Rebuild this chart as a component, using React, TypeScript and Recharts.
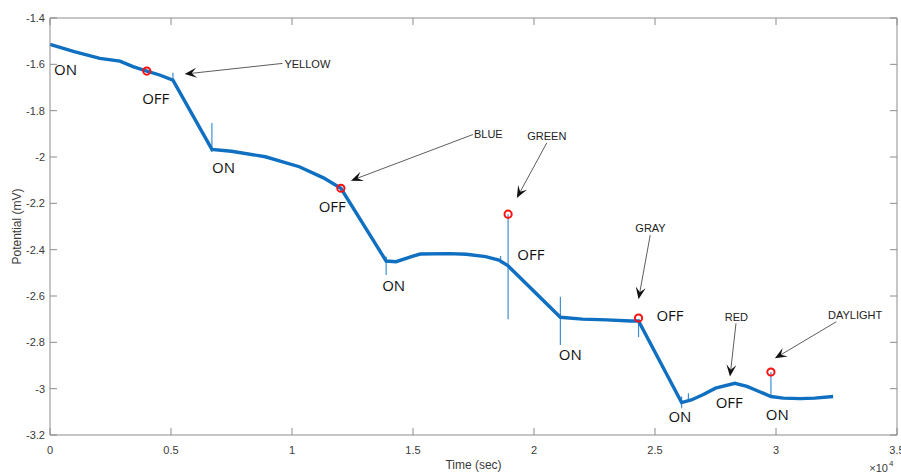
import { ComposedChart, Line, Scatter, XAxis, YAxis, ReferenceLine } from 'recharts';

// potential trace (time in s, potential in mV)
const traceTime = [
  0, 1000, 2060, 2890, 3430, 4000, 4530, 5080, 6690, 7500, 8900, 10300, 11300, 12020,
  13890, 14300, 15000, 15300, 16500, 17200, 18000, 18550, 18930, 21090, 22000, 23000,
  24000, 24320, 26100, 26500, 27000, 27500, 28300, 28800, 29300, 29790, 30300, 31000,
  31600, 32360,
];
const tracePotential = [
  -1.514, -1.545, -1.574, -1.586, -1.61, -1.629, -1.646, -1.668, -1.967, -1.975, -1.999,
  -2.042, -2.09, -2.135, -2.449, -2.452, -2.428, -2.419, -2.417, -2.42, -2.43, -2.445,
  -2.47, -2.692, -2.7, -2.703, -2.708, -2.708, -3.06, -3.049, -3.025, -2.998, -2.977,
  -2.99, -3.012, -3.034, -3.041, -3.043, -3.041, -3.034,
];

// switching transients
const spikeTime = [5080, 6690, 13890, 18620, 18930, 21090, 24320, 26100, 26380, 29790];
const spikeHigh = [-1.636, -1.853, -2.43, -2.427, -2.247, -2.603, -2.711, -3.034, -3.02, -2.928];
const spikeLow = [-1.675, -1.978, -2.509, -2.459, -2.7, -2.811, -2.778, -3.084, -3.056, -3.036];

// light-off markers
const markerTime = [4000, 12020, 18930, 24320, 29790];
const markerPotential = [-1.629, -2.135, -2.247, -2.695, -2.928];

// ON / OFF state labels
const stateText = ['ON', 'OFF', 'ON', 'OFF', 'ON', 'OFF', 'ON', 'OFF', 'ON', 'OFF', 'ON'];
const stateTime = [640, 4370, 7170, 11665, 14200, 19870, 21500, 25620, 26030, 28070, 30050];
const statePotential = [-1.624, -1.75, -2.047, -2.216, -2.557, -2.423, -2.855, -2.686, -3.121, -3.06, -3.113];

// light colour callouts
const calloutText = ['YELLOW', 'BLUE', 'GREEN', 'GRAY', 'RED', 'DAYLIGHT'];
const calloutTime = [9687, 17519, 20528, 24815, 28360, 32150];
const calloutPotential = [-1.599, -1.901, -1.909, -2.306, -2.69, -2.682];
const arrowFromTime = [9605, 17477, 20528, 24803, 28347, 32494];
const arrowFromPotential = [-1.596, -1.903, -1.939, -2.337, -2.718, -2.711];
const arrowToTime = [5565, 12436, 19291, 24320, 28100, 29954];
const arrowToPotential = [-1.642, -2.102, -2.177, -2.614, -2.948, -2.869];

const timeTicks = [0, 5000, 10000, 15000, 20000, 25000, 30000, 35000];
const potentialTicks = [-3.2, -3, -2.8, -2.6, -2.4, -2.2, -2, -1.8, -1.6, -1.4];

const trace = traceTime.map((t, i) => ({ t, v: tracePotential[i] }));
const markers = markerTime.map((t, i) => ({ t, v: markerPotential[i] }));
const states = stateTime.map((t, i) => ({ t, v: statePotential[i], text: stateText[i] }));
const callouts = calloutTime.map((t, i) => ({
  t,
  v: calloutPotential[i],
  text: calloutText[i],
  anchor: arrowFromTime[i] - arrowToTime[i] > 1500 ? 'start' : 'middle',
}));

const AXIS = '#8c8c8c';
const INK = '#3a3a3a';
const SANS = '"Liberation Sans", Arial, sans-serif';
const TICK = 7;

const fmtTime = (v: number) => String(v / 10000);
const fmtPotential = (v: number) => String(parseFloat(v.toFixed(1)));

const BottomTick = (p: any) => (
  <g>
    <line x1={p.x} y1={p.y} x2={p.x} y2={p.y - TICK} stroke={AXIS} />
    <text x={p.x} y={p.y + 15} dy="0.35em" textAnchor="middle" fontSize={11} fontFamily={SANS} fill={INK}>
      {fmtTime(p.payload.value)}
    </text>
  </g>
);

const TopTick = (p: any) => <line x1={p.x} y1={p.y} x2={p.x} y2={p.y + TICK} stroke={AXIS} />;

const LeftTick = (p: any) => (
  <g>
    <line x1={p.x} y1={p.y} x2={p.x + TICK} y2={p.y} stroke={AXIS} />
    <text x={p.x - 5} y={p.y} dy="0.35em" textAnchor="end" fontSize={11} fontFamily={SANS} fill={INK}>
      {fmtPotential(p.payload.value)}
    </text>
  </g>
);

const RightTick = (p: any) => <line x1={p.x} y1={p.y} x2={p.x - TICK} y2={p.y} stroke={AXIS} />;

const YTitle = (p: any) => {
  const { x, y, height } = p.viewBox;
  const cx = x + 17;
  const cy = y + height / 2;
  return (
    <text x={cx} y={cy} dy="0.35em" textAnchor="middle" fontSize={12} fontFamily={SANS} fill={INK}
      transform={`rotate(-90 ${cx} ${cy})`}>
      Potential (mV)
    </text>
  );
};

const XTitle = (p: any) => {
  const { x, y, width } = p.viewBox;
  return (
    <g fontFamily={SANS} fill={INK}>
      <text x={x + width / 2} y={y + 30} dy="0.35em" textAnchor="middle" fontSize={12}>
        Time (sec)
      </text>
      <text x={x + width - 9} y={y + 37} textAnchor="end" fontSize={11}>
        {'\u00d710'}
      </text>
      <text x={x + width - 8} y={y + 31} textAnchor="start" fontSize={8}>
        4
      </text>
    </g>
  );
};

// thin line with a notched arrow head at the end point
const Arrow = (p: any) => {
  const { x1, y1, x2, y2 } = p;
  const a = Math.atan2(y2 - y1, x2 - x1);
  const c = Math.cos(a);
  const s = Math.sin(a);
  const len = 12;
  const half = 5;
  const notch = 7;
  const bx = x2 - len * c;
  const by = y2 - len * s;
  const nx = x2 - notch * c;
  const ny = y2 - notch * s;
  const pts = [
    [x2, y2],
    [bx - half * s, by + half * c],
    [nx, ny],
    [bx + half * s, by - half * c],
  ].map((q) => q.join(',')).join(' ');
  return (
    <g>
      <line x1={x1} y1={y1} x2={nx} y2={ny} stroke="#333" strokeWidth={0.8} />
      <polygon points={pts} fill="#111" />
    </g>
  );
};

export default function App() {
  return (
    <div style={{ position: 'absolute', left: 0, top: 0, width: 901, height: 473, background: '#fff' }}>
      <ComposedChart width={901} height={473} margin={{ top: 0, right: 0, bottom: 0, left: 0 }}>
        <XAxis
          dataKey="t"
          type="number"
          domain={[0, 35000]}
          ticks={timeTicks}
          height={38}
          stroke={AXIS}
          tickLine={false}
          tickSize={0}
          tickMargin={0}
          tick={BottomTick}
          interval={0}
          label={<XTitle />}
        />
        <XAxis
          xAxisId="top"
          orientation="top"
          dataKey="t"
          type="number"
          domain={[0, 35000]}
          allowDataOverflow
          ticks={timeTicks}
          height={18}
          stroke={AXIS}
          tickLine={false}
          tickSize={0}
          tickMargin={0}
          tick={TopTick}
          interval={0}
        />
        <YAxis
          type="number"
          domain={[-3.2, -1.4]}
          ticks={potentialTicks}
          width={50}
          stroke={AXIS}
          tickLine={false}
          tickSize={0}
          tickMargin={0}
          tick={LeftTick}
          interval={0}
          label={<YTitle />}
        />
        <YAxis
          yAxisId="right"
          orientation="right"
          type="number"
          domain={[-3.2, -1.4]}
          allowDataOverflow
          ticks={potentialTicks}
          width={4}
          stroke={AXIS}
          tickLine={false}
          tickSize={0}
          tickMargin={0}
          tick={RightTick}
          interval={0}
        />

        {spikeTime.map((t, i) => (
          <ReferenceLine
            key={`spike-${i}`}
            segment={[{ x: t, y: spikeHigh[i] }, { x: t, y: spikeLow[i] }]}
            stroke="#3f8fd2"
            strokeWidth={1.2}
          />
        ))}

        <Line
          data={trace}
          dataKey="v"
          type="linear"
          stroke="#0f6fc0"
          strokeWidth={3.4}
          dot={false}
          activeDot={false}
          isAnimationActive={false}
        />

        <Scatter
          data={markers}
          dataKey="v"
          isAnimationActive={false}
          shape={(p: any) => <circle cx={p.cx} cy={p.cy} r={3.6} fill="none" stroke="#ff1010" strokeWidth={2} />}
        />

        <Scatter
          data={states}
          dataKey="v"
          isAnimationActive={false}
          shape={(p: any) => (
            <text x={p.cx} y={p.cy} dy="0.36em" textAnchor="middle" fontSize={15}
              fontFamily='"Open Sans", sans-serif' fill="#111">
              {p.payload.text}
            </text>
          )}
        />

        {arrowFromTime.map((t, i) => (
          <ReferenceLine
            key={`arrow-${i}`}
            segment={[{ x: t, y: arrowFromPotential[i] }, { x: arrowToTime[i], y: arrowToPotential[i] }]}
            shape={Arrow}
          />
        ))}

        <Scatter
          data={callouts}
          dataKey="v"
          isAnimationActive={false}
          shape={(p: any) => (
            <text x={p.cx} y={p.cy} dy="0.35em" textAnchor={p.payload.anchor} fontSize={11}
              fontFamily={SANS} fill="#222">
              {p.payload.text}
            </text>
          )}
        />
      </ComposedChart>
    </div>
  );
}
